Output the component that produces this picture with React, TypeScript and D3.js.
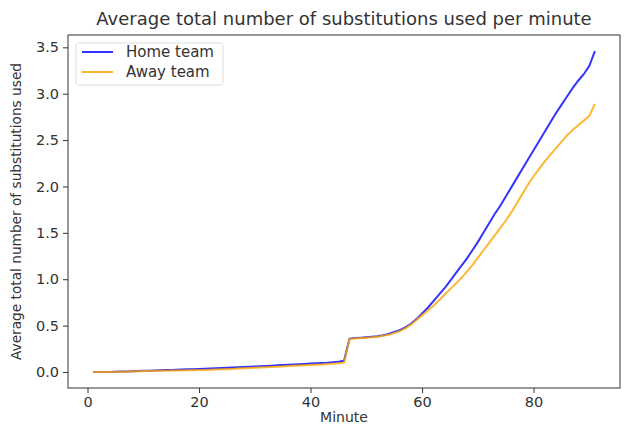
import { useEffect, useRef } from 'react';
import * as d3 from 'd3';

const minutes = d3.range(1, 92);

const homeTeam = [
  0.0, 0.0, 0.0, 0.0, 0.002, 0.004, 0.006, 0.008, 0.01, 0.012,
  0.014, 0.016, 0.018, 0.02, 0.022, 0.024, 0.026, 0.028, 0.03, 0.032,
  0.035, 0.037, 0.04, 0.042, 0.045, 0.047, 0.05, 0.053, 0.056, 0.059,
  0.062, 0.065, 0.068, 0.071, 0.074, 0.077, 0.08, 0.083, 0.086, 0.09,
  0.093, 0.097, 0.1, 0.105, 0.11, 0.12, 0.36, 0.365, 0.37, 0.375,
  0.38, 0.385, 0.395, 0.41, 0.43, 0.45, 0.48, 0.52, 0.57, 0.63,
  0.69, 0.76, 0.83, 0.9, 0.98, 1.06, 1.14, 1.22, 1.31, 1.4,
  1.5, 1.6, 1.7, 1.79, 1.89, 1.99, 2.09, 2.19, 2.29, 2.39,
  2.49, 2.59, 2.69, 2.79, 2.88, 2.97, 3.06, 3.14, 3.21, 3.3,
  3.46,
];

const awayTeam = [
  0.0, 0.0, 0.0, 0.0, 0.001, 0.002, 0.004, 0.006, 0.008, 0.01,
  0.011, 0.012, 0.013, 0.014, 0.015, 0.016, 0.017, 0.018, 0.019, 0.02,
  0.022, 0.024, 0.026, 0.028, 0.03, 0.033, 0.036, 0.039, 0.042, 0.045,
  0.048, 0.051, 0.054, 0.057, 0.06, 0.063, 0.066, 0.069, 0.072, 0.075,
  0.078, 0.081, 0.085, 0.089, 0.094, 0.1, 0.355, 0.36, 0.365, 0.37,
  0.375, 0.38, 0.39, 0.4, 0.42, 0.44, 0.47, 0.51, 0.56, 0.61,
  0.66, 0.71, 0.77, 0.83, 0.89, 0.95, 1.01, 1.08, 1.15, 1.23,
  1.31, 1.39, 1.47, 1.55, 1.63, 1.72, 1.82, 1.92, 2.02, 2.11,
  2.19, 2.27, 2.34, 2.41, 2.48, 2.55, 2.61, 2.66, 2.71, 2.76,
  2.89,
];

const xTicks = [0, 20, 40, 60, 80];
const yTicks = [0, 0.5, 1, 1.5, 2, 2.5, 3, 3.5];

const series = [
  { name: 'Home team', color: 'blue', values: homeTeam },
  { name: 'Away team', color: 'orange', values: awayTeam },
];

const App = () => {
  const ref = useRef<SVGSVGElement | null>(null);

  useEffect(() => {
    if (!ref.current) return;
    const svg = d3.select(ref.current);
    svg.selectAll('*').remove();
    const width = 624;
    const height = 426;
    const margin = { top: 35, right: 4, bottom: 38, left: 68 };
    const font = 'DejaVu Sans, sans-serif';
    const textColor = '#333';

    svg
      .attr('width', width)
      .attr('height', height)
      .style('position', 'absolute')
      .style('top', '0px')
      .style('left', '0px')
      .style('background', 'white');

    const x = d3
      .scaleLinear()
      .domain([-3.5, 95.5])
      .range([margin.left, width - margin.right]);

    const y = d3
      .scaleLinear()
      .domain([-0.173, 3.633])
      .range([height - margin.bottom, margin.top]);

    const xAxis = svg
      .append('g')
      .attr('transform', `translate(0,${height - margin.bottom})`)
      .call(d3.axisBottom(x).tickValues(xTicks).tickSize(5).tickPadding(4).tickFormat(d3.format('d')));

    const yAxis = svg
      .append('g')
      .attr('transform', `translate(${margin.left},0)`)
      .call(d3.axisLeft(y).tickValues(yTicks).tickSize(5).tickPadding(4).tickFormat(d3.format('.1f')));

    [xAxis, yAxis].forEach((g) => {
      g.select('.domain').remove();
      g.selectAll('line').attr('stroke', '#333');
      g.selectAll('text')
        .attr('fill', textColor)
        .style('font-family', font)
        .style('font-size', '14.5px');
    });

    svg
      .append('rect')
      .attr('x', margin.left)
      .attr('y', margin.top)
      .attr('width', width - margin.left - margin.right)
      .attr('height', height - margin.top - margin.bottom)
      .attr('fill', 'none')
      .attr('stroke', '#333')
      .attr('stroke-width', 1);

    const line = d3
      .line<number>()
      .x((_, i) => x(minutes[i]))
      .y((d) => y(d));

    series.forEach((s) => {
      svg
        .append('path')
        .datum(s.values)
        .attr('fill', 'none')
        .attr('stroke', s.color)
        .attr('stroke-opacity', 0.8)
        .attr('stroke-width', 2)
        .attr('d', line);
    });

    svg
      .append('text')
      .attr('x', (margin.left + width - margin.right) / 2)
      .attr('y', 25)
      .attr('text-anchor', 'middle')
      .attr('fill', textColor)
      .style('font-family', font)
      .style('font-size', '18px')
      .text('Average total number of substitutions used per minute');

    svg
      .append('text')
      .attr('x', (margin.left + width - margin.right) / 2)
      .attr('y', 422)
      .attr('text-anchor', 'middle')
      .attr('fill', textColor)
      .style('font-family', font)
      .style('font-size', '14px')
      .text('Minute');

    svg
      .append('text')
      .attr('transform', `translate(21,${(margin.top + height - margin.bottom) / 2}) rotate(-90)`)
      .attr('text-anchor', 'middle')
      .attr('fill', textColor)
      .style('font-family', font)
      .style('font-size', '13.7px')
      .text('Average total number of substitutions used');

    const legend = svg.append('g').attr('transform', 'translate(76,43)');
    legend
      .append('rect')
      .attr('width', 147)
      .attr('height', 42)
      .attr('rx', 3)
      .attr('fill', 'white')
      .attr('fill-opacity', 0.8)
      .attr('stroke', '#ddd');

    series.forEach((s, i) => {
      const ly = 9 + i * 20;
      legend
        .append('line')
        .attr('x1', 6)
        .attr('x2', 37)
        .attr('y1', ly)
        .attr('y2', ly)
        .attr('stroke', s.color)
        .attr('stroke-opacity', 0.8)
        .attr('stroke-width', 2);
      legend
        .append('text')
        .attr('x', 50)
        .attr('y', ly + 5)
        .attr('fill', textColor)
        .style('font-family', font)
        .style('font-size', '15px')
        .text(s.name);
    });
  }, []);

  return <svg ref={ref} />;
};

export default App;
